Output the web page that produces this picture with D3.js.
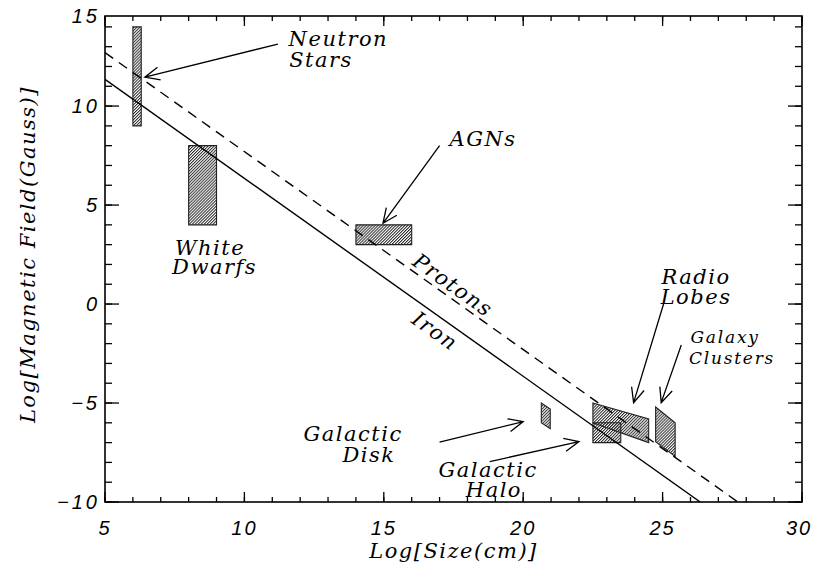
<!DOCTYPE html>
<html>
<head>
<meta charset="utf-8">
<script src="https://cdn.jsdelivr.net/npm/d3@7"></script>
<style>
  body { margin: 0; background: #fff; }
  .tick-label { font-family: "Liberation Sans", sans-serif; font-style: italic; font-size: 20px; letter-spacing: 3px; }
  .x-tick { letter-spacing: 2px; }
  .title { font-family: "DejaVu Serif", serif; font-style: italic; font-size: 21px; letter-spacing: 1.5px; }
  .note { font-family: "DejaVu Serif", serif; font-style: italic; font-size: 21px; letter-spacing: 1.5px; }
  .note-small { font-size: 17px; letter-spacing: 1.8px; }
</style>
</head>
<body>
<div id="chart"></div>
<script>
// axis ranges + ticks
const xDomain = [5, 30];
const yDomain = [-10, 14.55];
const xMajor = [5, 10, 15, 20, 25, 30];
const yMajor = [-10, -5, 0, 5, 10, 15];
const xMinor = d3.range(5, 31, 1);
const yMinor = d3.range(-10, 15, 1);

// Hillas lines: log B vs log R
const ironLine = [[5, 11.35], [26.35, -10]];
const protonLine = [[5, 12.7], [27.7, -10]];

// source regions (log R, log B)
const neutronStars = [[6, 9], [6.3, 9], [6.3, 14], [6, 14]];
const whiteDwarfs = [[8, 4], [9, 4], [9, 8], [8, 8]];
const agns = [[14, 3], [16, 3], [16, 4], [14, 4]];
const galacticDisk = [[20.65, -5], [20.97, -5.3], [20.97, -6.3], [20.65, -6]];
const radioLobes = [[22.5, -5], [24.5, -5.8], [24.5, -7], [22.5, -6]];
const galacticHalo = [[22.5, -6], [23.5, -6], [23.5, -7], [22.5, -7]];
const galaxyClusters = [[24.75, -5.2], [25.45, -6], [25.45, -7.7], [24.75, -6.95]];
const regions = [neutronStars, whiteDwarfs, agns, galacticDisk, radioLobes, galacticHalo, galaxyClusters];

// arrows: [from, to]
const arrows = [
  [[11.2, 13.13], [6.43, 11.46]],
  [[17, 8], [14.97, 4.08]],
  [[25.04, 0.03], [23.96, -4.98]],
  [[25.67, -2.07], [24.95, -4.98]],
  [[17, -6.98], [20, -5.94]],
  [[18.8, -7.96], [22, -6.95]]
];

// annotation text (centre x, baseline y in data units)
const labels = [
  ["Neutron", 13.37, 13.03], ["Stars", 12.75, 11.98],
  ["White", 8.77, 2.47], ["Dwarfs", 8.93, 1.5],
  ["AGNs", 18.56, 7.98],
  ["Radio", 26.2, 1.01], ["Lobes", 26.2, 0.0],
  ["Galactic", 13.9, -6.92], ["Disk", 14.47, -7.98],
  ["Galactic", 18.74, -8.74], ["Halo", 18.95, -9.75]
];
const smallLabels = [["Galaxy", 27.24, -1.97], ["Clusters", 27.49, -3.03]];
const lineLabels = [["Protons", 17.48, 0.96], ["Iron", 16.84, -1.36]];

const width = 815, height = 569;
const margin = {top: 16, right: 13, bottom: 67, left: 105};

const x = d3.scaleLinear().domain(xDomain).range([margin.left, width - margin.right]);
const y = d3.scaleLinear().domain(yDomain).range([height - margin.bottom, margin.top]).clamp(true);

const svg = d3.select("#chart").append("svg")
  .attr("width", width).attr("height", height);

svg.append("rect").attr("width", width).attr("height", height).attr("fill", "#fff");

let defs = svg.append("defs");
let pat = defs.append("pattern")
  .attr("id", "hatch")
  .attr("patternUnits", "userSpaceOnUse")
  .attr("width", 2.1).attr("height", 4)
  .attr("patternTransform", "rotate(45)");
pat.append("line")
  .attr("x1", 0.5).attr("y1", 0).attr("x2", 0.5).attr("y2", 4)
  .attr("stroke", "#2a2a2a").attr("stroke-width", 1);

defs.append("clipPath").attr("id", "plot-clip")
  .append("rect")
  .attr("x", x(xDomain[0])).attr("y", y(yDomain[1]))
  .attr("width", x(xDomain[1]) - x(xDomain[0]))
  .attr("height", y(yDomain[0]) - y(yDomain[1]));

const plot = svg.append("g").attr("clip-path", "url(#plot-clip)");

// regions
plot.selectAll(".region")
  .data(regions)
  .enter()
  .append("polygon")
  .attr("class", "region")
  .attr("points", d => d.map(p => x(p[0]) + "," + y(p[1])).join(" "))
  .attr("fill", "url(#hatch)")
  .attr("stroke", "#222")
  .attr("stroke-width", 1.1);

// iron + proton lines
const line = d3.line().x(d => x(d[0])).y(d => y(d[1]));
plot.append("path").attr("d", line(ironLine))
  .attr("fill", "none").attr("stroke", "#000").attr("stroke-width", 1.4);
plot.append("path").attr("d", line(protonLine))
  .attr("fill", "none").attr("stroke", "#000").attr("stroke-width", 1.4)
  .attr("stroke-dasharray", "10,7");

// arrows with open heads
function arrowPath(a){
  let x0 = x(a[0][0]), y0 = y(a[0][1]), x1 = x(a[1][0]), y1 = y(a[1][1]);
  let ang = Math.atan2(y1 - y0, x1 - x0);
  let len = 16, spread = 0.42;
  let p = d3.path();
  p.moveTo(x0, y0); p.lineTo(x1, y1);
  p.moveTo(x1 - len * Math.cos(ang - spread), y1 - len * Math.sin(ang - spread));
  p.lineTo(x1, y1);
  p.lineTo(x1 - len * Math.cos(ang + spread), y1 - len * Math.sin(ang + spread));
  return p.toString();
}
svg.selectAll(".arrow")
  .data(arrows)
  .enter()
  .append("path")
  .attr("class", "arrow")
  .attr("d", arrowPath)
  .attr("fill", "none").attr("stroke", "#000").attr("stroke-width", 1.3);

// frame
svg.append("rect")
  .attr("x", x(xDomain[0])).attr("y", y(yDomain[1]))
  .attr("width", x(xDomain[1]) - x(xDomain[0]))
  .attr("height", y(yDomain[0]) - y(yDomain[1]))
  .attr("fill", "none").attr("stroke", "#000").attr("stroke-width", 1.6);

// ticks on all four sides (IDL style, pointing inward)
function drawTicks(g, vals, len, side){
  g.selectAll(null)
    .data(vals)
    .enter()
    .append("line")
    .attr("x1", d => side == "bottom" || side == "top" ? x(d) : (side == "left" ? x(xDomain[0]) : x(xDomain[1])))
    .attr("x2", d => side == "bottom" || side == "top" ? x(d) : (side == "left" ? x(xDomain[0]) + len : x(xDomain[1]) - len))
    .attr("y1", d => side == "left" || side == "right" ? y(d) : (side == "bottom" ? y(yDomain[0]) : y(yDomain[1])))
    .attr("y2", d => side == "left" || side == "right" ? y(d) : (side == "bottom" ? y(yDomain[0]) - len : y(yDomain[1]) + len))
    .attr("stroke", "#000").attr("stroke-width", 1.3);
}
let ticks = svg.append("g");
drawTicks(ticks, xMajor, 10, "bottom");
drawTicks(ticks, xMinor, 5, "bottom");
drawTicks(ticks, xMajor, 10, "top");
drawTicks(ticks, xMinor, 5, "top");
drawTicks(ticks, yMajor.filter(d => d < yDomain[1]), 14, "left");
drawTicks(ticks, yMinor, 7, "left");
drawTicks(ticks, yMajor.filter(d => d < yDomain[1]), 14, "right");
drawTicks(ticks, yMinor, 7, "right");

// tick labels
svg.selectAll(".xlab")
  .data(xMajor)
  .enter()
  .append("text")
  .attr("class", "tick-label x-tick")
  .attr("x", d => Math.min(x(d), width - 16))
  .attr("y", y(yDomain[0]) + 33)
  .attr("text-anchor", "middle")
  .text(d => d);

svg.selectAll(".ylab")
  .data(yMajor)
  .enter()
  .append("text")
  .attr("class", "tick-label")
  .attr("x", x(xDomain[0]) - 5)
  .attr("y", d => y(d) + 7)
  .attr("text-anchor", "end")
  .text(d => d < 0 ? "\u2212" + Math.abs(d) : d);

// axis titles
svg.append("text")
  .attr("class", "title")
  .attr("x", x(17.5)).attr("y", height - 11)
  .attr("text-anchor", "middle")
  .text("Log[Size(cm)]");

svg.append("text")
  .attr("class", "title")
  .attr("transform", "translate(35," + y(2.5) + ") rotate(-90)")
  .attr("text-anchor", "middle")
  .text("Log[Magnetic Field(Gauss)]");

// annotations
svg.selectAll(".note-label")
  .data(labels)
  .enter()
  .append("text")
  .attr("class", "note")
  .attr("x", d => x(d[1])).attr("y", d => y(d[2]))
  .attr("text-anchor", "middle")
  .text(d => d[0]);

svg.selectAll(".note-small-label")
  .data(smallLabels)
  .enter()
  .append("text")
  .attr("class", "note note-small")
  .attr("x", d => x(d[1])).attr("y", d => y(d[2]))
  .attr("text-anchor", "middle")
  .text(d => d[0]);

// labels along the lines, rotated to their slope
let slope = Math.atan2(y(-1) - y(0), x(1) - x(0)) * 180 / Math.PI;
svg.selectAll(".line-label")
  .data(lineLabels)
  .enter()
  .append("text")
  .attr("class", "note")
  .attr("transform", d => "translate(" + x(d[1]) + "," + y(d[2]) + ") rotate(" + slope + ")")
  .attr("dy", "0.35em")
  .attr("text-anchor", "middle")
  .text(d => d[0]);
</script>
</body>
</html>
